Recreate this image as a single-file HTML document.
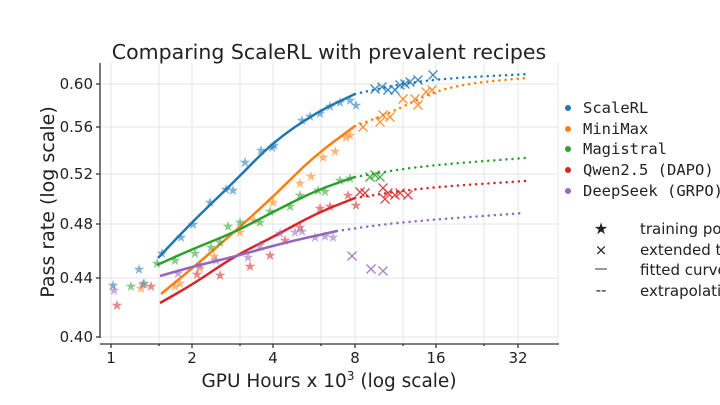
<!DOCTYPE html>
<html><head><meta charset="utf-8"><style>
body{margin:0;background:#fff;width:720px;height:405px;overflow:hidden}
svg{display:block;font-family:"DejaVu Sans","Liberation Sans",sans-serif}
.mono{font-family:"DejaVu Sans Mono","Liberation Mono",monospace}
</style></head><body>
<svg id="s" width="720" height="405" viewBox="0 0 720 405">
<g stroke="#e6e6e6" stroke-width="1">
<line x1="111" y1="63" x2="111" y2="344"/><line x1="159" y1="63" x2="159" y2="344"/><line x1="192" y1="63" x2="192" y2="344"/><line x1="240" y1="63" x2="240" y2="344"/><line x1="273" y1="63" x2="273" y2="344"/><line x1="321" y1="63" x2="321" y2="344"/><line x1="355" y1="63" x2="355" y2="344"/><line x1="403" y1="63" x2="403" y2="344"/><line x1="436" y1="63" x2="436" y2="344"/><line x1="484" y1="63" x2="484" y2="344"/><line x1="518" y1="63" x2="518" y2="344"/><line x1="558" y1="63" x2="558" y2="344"/>
<line x1="100" y1="84" x2="558" y2="84"/><line x1="100" y1="127" x2="558" y2="127"/><line x1="100" y1="174" x2="558" y2="174"/><line x1="100" y1="224" x2="558" y2="224"/><line x1="100" y1="278" x2="558" y2="278"/><line x1="100" y1="337" x2="558" y2="337"/>
</g>
<g stroke="#333" stroke-width="1.3">
<line x1="100" y1="63" x2="100" y2="338"/><line x1="100" y1="344" x2="559" y2="344"/>
<line x1="96" y1="84" x2="100" y2="84"/><line x1="96" y1="127" x2="100" y2="127"/><line x1="96" y1="174" x2="100" y2="174"/><line x1="96" y1="224" x2="100" y2="224"/><line x1="96" y1="278" x2="100" y2="278"/><line x1="96" y1="337" x2="100" y2="337"/>
<line x1="111" y1="344" x2="111" y2="348"/><line x1="192" y1="344" x2="192" y2="348"/><line x1="273" y1="344" x2="273" y2="348"/><line x1="355" y1="344" x2="355" y2="348"/><line x1="436" y1="344" x2="436" y2="348"/><line x1="518" y1="344" x2="518" y2="348"/>
<line x1="159" y1="344" x2="159" y2="346"/><line x1="240" y1="344" x2="240" y2="346"/><line x1="321" y1="344" x2="321" y2="346"/><line x1="403" y1="344" x2="403" y2="346"/><line x1="484" y1="344" x2="484" y2="346"/>
</g>
<g font-size="15" fill="#222" text-anchor="end">
<text x="93" y="89">0.60</text><text x="93" y="132">0.56</text><text x="93" y="179">0.52</text><text x="93" y="229">0.48</text><text x="93" y="283">0.44</text><text x="93" y="342">0.40</text>
</g>
<g font-size="15" fill="#222" text-anchor="middle">
<text x="111" y="363">1</text><text x="192" y="363">2</text><text x="273" y="363">4</text><text x="355" y="363">8</text><text x="436" y="363">16</text><text x="518" y="363">32</text>
</g>
<text x="329" y="59" font-size="20.5" text-anchor="middle" fill="#222">Comparing ScaleRL with prevalent recipes</text>
<text x="329" y="387" font-size="18.5" text-anchor="middle" fill="#222">GPU Hours x 10<tspan dy="-7" font-size="12">3</tspan><tspan dy="7"> (log scale)</tspan></text>
<text transform="translate(54,202) rotate(-90)" font-size="19" text-anchor="middle" fill="#222">Pass rate (log scale)</text>
<g id="data"></g>
<g font-size="15.5" fill="#222" class="mono">
<circle cx="568" cy="108" r="3" fill="#1f77b4"/><text x="583" y="113">ScaleRL</text>
<circle cx="568" cy="129" r="3" fill="#ff7f0e"/><text x="583" y="134">MiniMax</text>
<circle cx="568" cy="149" r="3" fill="#2ca02c"/><text x="583" y="154">Magistral</text>
<circle cx="568" cy="170" r="3" fill="#d62728"/><text x="583" y="175">Qwen2.5 (DAPO)</text>
<circle cx="568" cy="191" r="3" fill="#9467bd"/><text x="583" y="196">DeepSeek (GRPO)</text>
</g>
<g font-size="15" fill="#222">
<text x="601" y="234" text-anchor="middle" font-size="16">★</text><text x="640" y="234">training points</text>
<text x="601" y="255" text-anchor="middle">×</text><text x="640" y="255">extended training</text>
<line x1="595" y1="269" x2="607" y2="269" stroke="#333" stroke-width="1"/><text x="640" y="275">fitted curve</text>
<text x="601" y="295" text-anchor="middle">--</text><text x="640" y="296">extrapolation</text>
</g>
</svg>
<script>
var S=[
{c:"#1f77b4",solid:[[158,258],[195,219],[233,183],[273,142],[317,112],[355,94]],dot:[[355,94],[400,84],[450,78],[530,74]],
st:[[113,285],[139,269],[162,253],[181,237],[193,224],[210,202],[226,189],[233,190],[245,162],[261,150],[272,147],[274,145],[302,120],[310,116],[320,113],[330,106],[340,102],[350,100],[356,105]],
x:[[375,89],[382,87],[388,90],[395,90],[400,85],[405,84],[410,82],[418,80],[433,75]]},
{c:"#ff7f0e",solid:[[161,294],[195,266],[233,233],[273,197],[313,157],[355,126]],dot:[[355,126],[390,113],[437,90],[480,82],[527,78]],
st:[[141,288],[175,286],[180,283],[200,268],[214,256],[240,232],[254,220],[273,202],[300,183],[311,176],[323,157],[335,151],[346,137],[350,135]],
x:[[363,127],[380,122],[383,115],[390,117],[403,99],[415,99],[418,105],[426,92],[432,90]]},
{c:"#2ca02c",solid:[[157,265],[195,248],[233,233],[273,212],[317,190],[355,177]],dot:[[355,177],[420,166],[525,158]],
st:[[131,286],[144,283],[157,263],[175,260],[195,253],[211,247],[220,242],[228,226],[240,222],[260,222],[270,211],[290,206],[300,195],[318,190],[325,191],[340,180],[350,178]],
x:[[370,177],[375,175],[380,177]]},
{c:"#d62728",solid:[[160,303],[195,283],[233,257],[273,237],[317,213],[355,198]],dot:[[355,198],[420,188],[525,181]],
st:[[117,305],[151,286],[197,274],[220,275],[250,266],[270,255],[285,240],[300,227],[320,208],[330,206],[348,195],[356,205]],
x:[[360,192],[365,193],[383,188],[388,193],[385,199],[395,195],[400,193],[408,195]]},
{c:"#9467bd",solid:[[160,276],[195,266],[233,257],[283,243],[337,231]],dot:[[337,231],[400,222],[525,213]],
st:[[114,290],[143,284],[178,273],[200,265],[216,260],[248,257],[260,245],[280,233],[295,232],[302,231],[315,237],[325,236],[333,237]],
x:[[352,256],[371,269],[383,271]]}];
var g=document.getElementById("data"),h="";
function path(p){var d="M"+p[0];for(var i=1;i<p.length;i++){var a=p[i-1],b=p[i];d+=" Q"+a+" "+((a[0]+b[0])/2)+","+((a[1]+b[1])/2);}d+=" L"+p[p.length-1];return d;}
S.forEach(function(s){
s.st.forEach(function(p){h+='<text x="'+p[0]+'" y="'+(p[1]+5)+'" font-size="14" text-anchor="middle" fill="'+s.c+'" opacity="0.55">★</text>';});
s.x.forEach(function(p){h+='<path d="M'+(p[0]-4.5)+','+(p[1]-4.5)+'l9,9m0,-9l-9,9" stroke="'+s.c+'" stroke-width="1.3" fill="none" opacity="0.85"/>';});
h+='<path d="'+path(s.solid)+'" stroke="'+s.c+'" stroke-width="2.5" fill="none"/>';
h+='<path d="'+path(s.dot)+'" stroke="'+s.c+'" stroke-width="2.5" fill="none" stroke-dasharray="0.1 6" stroke-linecap="round"/>';
});
g.innerHTML=h;
</script>
</body></html>
